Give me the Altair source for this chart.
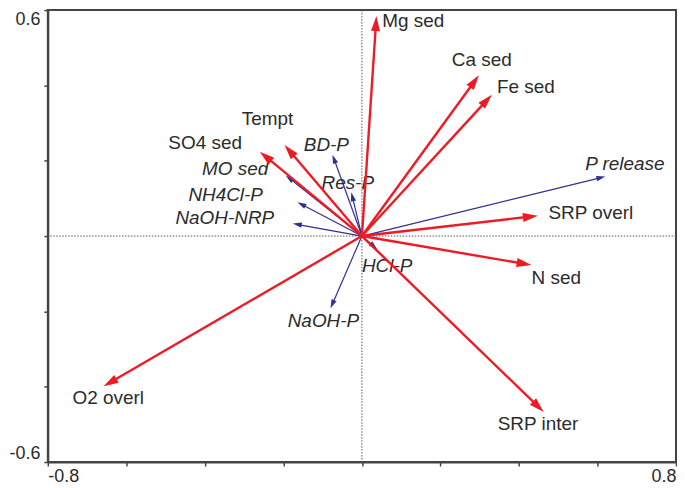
import math
import altair as alt
import pandas as pd

# ---------------- data ----------------
names = ["Mg sed", "Ca sed", "Fe sed", "SRP overl", "N sed", "SRP inter", "O2 overl",
         "SO4 sed", "Tempt",
         "P release", "BD-P", "Res-P", "MO sed", "NH4Cl-P", "NaOH-NRP", "HCl-P", "NaOH-P"]
axis1 = [0.037, 0.298, 0.331, 0.448, 0.432, 0.463, -0.658, -0.260, -0.197,
         0.620, -0.075, -0.027, -0.194, -0.164, -0.176, 0.039, -0.080]
axis2 = [0.584, 0.427, 0.375, 0.054, -0.077, -0.467, -0.399, 0.224, 0.242,
         0.158, 0.216, 0.116, 0.161, 0.090, 0.033, -0.035, -0.192]
group = ["env"] * 9 + ["resp"] * 8

# label anchor points (left edge, vertical middle) in axis units
label_x = [0.052, 0.229, 0.344, 0.475, 0.432, 0.346, -0.737, -0.493, -0.306,
           0.569, -0.148, -0.103, -0.407, -0.442, -0.475, 0.000, -0.189]
label_y = [0.571, 0.468, 0.396, 0.061, -0.111, -0.500, -0.430, 0.247, 0.310,
           0.192, 0.242, 0.142, 0.179, 0.108, 0.048, -0.080, -0.226]

x_ticks = [-0.8, -0.6, -0.4, -0.2, 0.0, 0.2, 0.4, 0.6, 0.8]
y_ticks = [-0.6, -0.4, -0.2, 0.0, 0.2, 0.4, 0.6]
x_tick_labels = {-0.8: "-0.8", 0.8: "0.8"}
y_tick_labels = {-0.6: "-0.6", 0.6: "0.6"}

# ---------------- layout ----------------
W, H = 631, 454
XD, YD = [-0.8, 0.8], [-0.6, 0.6]
sx, sy = W / (XD[1] - XD[0]), H / (YD[1] - YD[0])
RED, BLUE, TXT, AX = "#ED1C24", "#2E3192", "#2B2B2B", "#444444"
FONT = "Liberation Sans"
HEAD = "M0,0L-0.6,2L0.6,2Z"
head_len = {"env": 15, "resp": 9}

rows = []
for n, a, b, g, lx, ly in zip(names, axis1, axis2, group, label_x, label_y):
    px, py = a * sx, b * sy
    L = math.hypot(px, py)
    f = max(0.0, 1 - head_len[g] * 0.6 / L)
    ang = math.degrees(math.atan2(px, py)) % 360
    rows.append(dict(name=n, x=a, y=b, g=g, lx=lx, ly=ly, xe=a * f, ye=b * f,
                     zero=0.0, angle=ang))
df = pd.DataFrame(rows)


def expr(d):
    parts = " : ".join(f"abs(datum.value - ({k})) < 1e-6 ? '{v}'" for k, v in d.items())
    return parts + " : ''"


xaxis = alt.Axis(values=x_ticks, labelExpr=expr(x_tick_labels), title=None, grid=False,
                 labelFlush=True, labelOverlap=False, tickSize=4, tickWidth=1.5,
                 tickColor=AX, domainColor=AX, domainWidth=2, labelFont=FONT,
                 labelFontSize=18, labelColor=TXT, labelPadding=2)
yaxis = alt.Axis(values=y_ticks, labelExpr=expr(y_tick_labels), title=None, grid=False,
                 labelFlush=True, labelOverlap=False, tickSize=4, tickWidth=1.5,
                 tickColor=AX, domainColor=AX, domainWidth=2, labelFont=FONT,
                 labelFontSize=18, labelColor=TXT, labelPadding=4)
xs = alt.Scale(domain=XD, nice=False, zero=False)
ys = alt.Scale(domain=YD, nice=False, zero=False)


def X(f):
    return alt.X(f, type="quantitative", scale=xs, axis=xaxis)


def Y(f):
    return alt.Y(f, type="quantitative", scale=ys, axis=yaxis)


zero_df = pd.DataFrame({"v": [0.0]})
hline = alt.Chart(zero_df).mark_rule(color="#555555", strokeWidth=1, strokeDash=[1.5, 1.5]).encode(y=Y("v"))
vline = alt.Chart(zero_df).mark_rule(color="#555555", strokeWidth=1, strokeDash=[1.5, 1.5]).encode(x=X("v"))

layers = [hline, vline]
for g, col, sw, size, style in [("resp", BLUE, 1.2, 81, "italic"), ("env", RED, 2.4, 225, "normal")]:
    base = alt.Chart(df).transform_filter(alt.datum.g == g)
    shaft = base.mark_rule(color=col, strokeWidth=sw).encode(
        x=X("zero"), y=Y("zero"), x2="xe", y2="ye")
    head = base.mark_point(shape=HEAD, filled=True, color=col, opacity=1, size=size,
                           strokeWidth=0).encode(
        x=X("x"), y=Y("y"), angle=alt.Angle("angle:Q", scale=None))
    lab = base.mark_text(align="left", baseline="middle", font=FONT, fontSize=19,
                         fontStyle=style, color=TXT).encode(
        x=X("lx"), y=Y("ly"), text="name:N")
    layers += [shaft, head, lab]

chart = alt.layer(*layers).properties(width=W, height=H, padding=0).configure_view(
    stroke=AX, strokeWidth=2)

chart.save("out.html", embed_options={"renderer": "svg", "actions": False})
